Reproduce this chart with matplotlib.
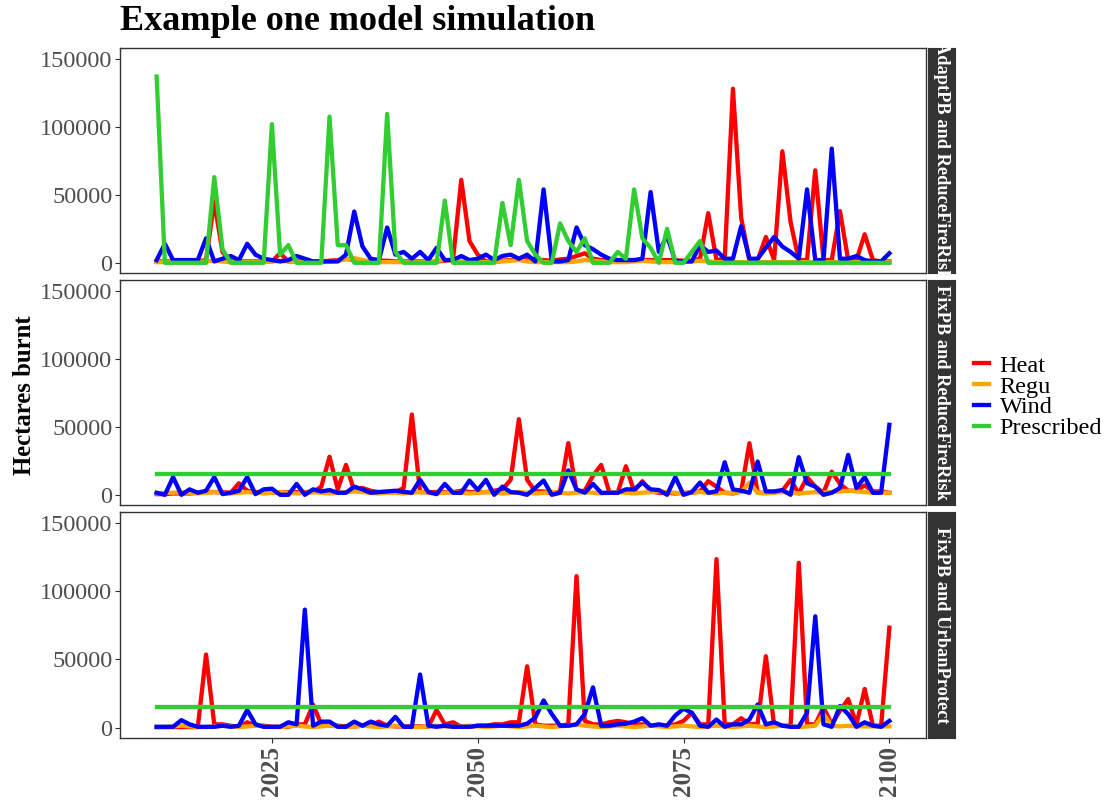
import numpy as np
import matplotlib.pyplot as plt
from matplotlib.lines import Line2D

plt.rcParams['font.family'] = ['Liberation Serif', 'DejaVu Serif']

years = np.arange(2011, 2101)

series_names = ['Heat', 'Regu', 'Wind', 'Prescribed']
series_colors = ['red', 'orange', 'blue', 'limegreen']
panel_titles = ['AdaptPB and ReduceFireRisk', 'FixPB and ReduceFireRisk', 'FixPB and UrbanProtect']

# ---- AdaptPB and ReduceFireRisk ----
heat_adapt = [1000, 1000, 1000, 1000, 1000, 1000, 2000, 45000, 8000, 1000,
              1000, 1000, 1000, 1000, 1000, 7000, 1000, 1000, 1000, 1000,
              1000, 1500, 2000, 3000, 2000, 1000, 1000, 1500, 1500, 1000,
              1000, 1000, 1000, 1000, 1000, 1500, 2500, 61000, 16000, 6000,
              1000, 1000, 1500, 2000, 2500, 3000, 2000, 2000, 1500, 2500,
              3000, 5000, 7000, 3000, 2000, 2000, 2000, 2000, 2000, 2000,
              2000, 2000, 2000, 2000, 1500, 1500, 3000, 36500, 2000, 3000,
              128000, 33000, 2000, 2000, 19000, 2000, 82000, 30000, 2000, 2000,
              68000, 2000, 2000, 38000, 2000, 2000, 21000, 2000, 1000, 1000]
regu_adapt = [500, 500, 500, 500, 500, 500, 1000, 1500, 1000, 500,
              500, 500, 500, 500, 1000, 1500, 1000, 500, 500, 500,
              500, 1000, 1500, 2500, 3500, 2000, 1000, 500, 500, 500,
              500, 500, 500, 1000, 1500, 2000, 1500, 1000, 500, 500,
              500, 500, 1000, 1500, 2000, 1000, 500, 500, 500, 500,
              500, 1000, 2000, 1500, 1000, 500, 500, 500, 1000, 1500,
              1000, 500, 500, 500, 500, 1000, 1500, 1000, 500, 500,
              500, 500, 500, 500, 500, 500, 500, 500, 500, 500,
              500, 500, 500, 500, 500, 500, 500, 500, 500, 500]
wind_adapt = [2000, 14000, 2000, 2000, 2000, 2000, 18000, 1000, 3000, 5000,
              2000, 14000, 6000, 3000, 2000, 1000, 2000, 5000, 3000, 1000,
              1000, 1000, 1000, 6000, 37700, 12000, 3000, 2000, 26000, 6000,
              8000, 3000, 8000, 2000, 11000, 2000, 2000, 5000, 2000, 3000,
              6000, 2000, 5000, 6000, 3000, 6000, 1000, 54000, 1000, 1000,
              2000, 26000, 13000, 10000, 6000, 3000, 2000, 2000, 2000, 3000,
              52000, 8000, 20000, 1000, 1000, 1000, 13000, 8000, 9000, 3000,
              3000, 27000, 3000, 3000, 11000, 19000, 12000, 8000, 3000, 54000,
              2000, 2000, 84000, 3000, 3000, 5000, 2000, 1000, 1000, 7000]
presc_adapt = [137000, 0, 0, 0, 0, 0, 0, 63000, 10000, 0,
               0, 0, 0, 0, 102000, 6000, 13000, 0, 0, 0,
               0, 107500, 13000, 13000, 0, 0, 0, 0, 109500, 8000,
               0, 0, 0, 0, 0, 45800, 0, 0, 0, 0,
               0, 0, 44000, 13000, 61000, 16000, 6000, 0, 0, 29000,
               16000, 8000, 18000, 0, 0, 0, 8000, 3000, 54000, 18000,
               11000, 0, 25000, 0, 0, 8000, 16000, 0, 0, 0,
               0, 0, 0, 0, 0, 0, 0, 0, 0, 0,
               0, 0, 0, 0, 0, 0, 0, 0, 0, 0]

# ---- FixPB and ReduceFireRisk ----
heat_fix_reduce = [500, 500, 1000, 1000, 1000, 1500, 2000, 2000, 2000, 1500,
                   8500, 3000, 2000, 2000, 1500, 2000, 2000, 2000, 2000, 2000,
                   6000, 28000, 4000, 22000, 3000, 5000, 3000, 2000, 2000, 2000,
                   5000, 59000, 2000, 2000, 2000, 2000, 2000, 3000, 2000, 2000,
                   2000, 3000, 4000, 11000, 55600, 11000, 2500, 2500, 1000, 2500,
                   38000, 2500, 3000, 14000, 22000, 1500, 1500, 21000, 2500, 10000,
                   2500, 1500, 1500, 1000, 1500, 1500, 2500, 10000, 6000, 1500,
                   1000, 2500, 38000, 1500, 1500, 1500, 3000, 11000, 1000, 13000,
                   6000, 1500, 17000, 8000, 3000, 3000, 7000, 2500, 2500, 1500]
regu_fix_reduce = [1000, 1500, 1500, 2000, 1500, 1000, 1500, 2000, 1500, 1000,
                   1500, 2000, 1500, 1000, 1500, 2000, 1500, 1000, 1500, 2000,
                   1500, 1000, 1500, 2000, 2500, 2000, 1500, 1000, 1500, 1500,
                   1000, 1500, 2000, 1500, 1000, 1500, 2000, 1500, 1000, 1500,
                   2000, 1500, 1000, 1500, 2000, 1500, 1000, 1500, 2000, 1500,
                   1000, 1500, 2000, 1500, 1000, 1500, 2000, 1500, 1000, 1500,
                   2000, 2500, 2000, 1500, 1000, 1500, 2000, 1500, 1000, 1500,
                   1500, 2000, 9000, 1500, 1000, 1500, 2000, 1500, 1000, 1500,
                   2000, 1500, 2000, 2500, 3000, 2500, 2000, 1500, 1500, 1500]
wind_fix_reduce = [1500, 0, 13000, 0, 4000, 1500, 3000, 13000, 500, 1500,
                   3000, 13000, 500, 4000, 4500, 0, 0, 8000, 0, 4000,
                   2500, 3500, 1500, 1500, 6000, 4000, 1500, 2000, 2500, 3000,
                   2200, 1500, 11000, 2000, 500, 8000, 1500, 1500, 10500, 3500,
                   11000, 0, 6000, 2000, 1500, 0, 5000, 10500, 0, 1500,
                   18000, 4000, 1500, 8000, 1500, 1500, 1500, 4000, 4000, 9000,
                   4000, 3500, 0, 13000, 0, 2000, 9000, 1500, 2500, 24000,
                   4000, 3000, 1500, 24500, 2500, 2500, 3500, 0, 27700, 8500,
                   6000, 0, 1500, 5000, 29400, 5000, 13000, 1500, 1500, 51500]
presc_fix_reduce = [15400] * 90

# ---- FixPB and UrbanProtect ----
heat_fix_urban = [500, 500, 500, 500, 500, 500, 53600, 2500, 2500, 1500,
                  700, 4000, 1500, 1500, 700, 700, 700, 2500, 2500, 17000,
                  2500, 1500, 1500, 1000, 1000, 1500, 1500, 4500, 1500, 1000,
                  1000, 1000, 1000, 700, 13000, 2500, 4000, 700, 700, 1500,
                  1500, 2500, 2500, 4000, 4000, 45000, 2500, 1500, 1500, 1500,
                  2500, 111000, 5000, 2500, 2500, 4000, 5000, 4000, 2500, 2500,
                  1500, 1500, 1500, 2500, 5000, 11000, 2500, 2500, 123500, 2500,
                  2500, 7000, 2500, 3000, 52400, 1500, 1500, 1500, 120800, 2500,
                  2500, 15000, 2500, 12500, 21000, 2500, 28400, 1500, 1500, 73300]
regu_fix_urban = [500, 500, 1000, 1500, 1000, 500, 500, 1000, 1500, 1000,
                  500, 1000, 1500, 1000, 500, 500, 1000, 1500, 1000, 500,
                  1000, 1500, 1000, 500, 1000, 1500, 1000, 500, 1000, 1500,
                  1000, 500, 500, 1000, 1500, 1000, 500, 1000, 1500, 1000,
                  500, 1000, 1500, 1000, 500, 1000, 1500, 1000, 500, 1000,
                  1500, 2500, 1500, 1000, 500, 1000, 1500, 1000, 500, 1000,
                  1500, 1000, 500, 1000, 1500, 1000, 500, 1000, 1500, 1000,
                  500, 1000, 1500, 1000, 500, 1000, 1500, 1000, 500, 1000,
                  1500, 10000, 1500, 1000, 1500, 1000, 1000, 1000, 1000, 1000]
wind_fix_urban = [700, 700, 700, 5600, 2500, 700, 700, 700, 1500, 700,
                  1500, 13000, 2500, 700, 700, 700, 4000, 2500, 86500, 1500,
                  4500, 4500, 700, 700, 4500, 1500, 4500, 2500, 1500, 8000,
                  700, 700, 39000, 1500, 700, 1500, 700, 700, 700, 1500,
                  1500, 1500, 1500, 1500, 1500, 3000, 7500, 20000, 10000, 1500,
                  1500, 2500, 10000, 29600, 1500, 1500, 2500, 3000, 4500, 7000,
                  1500, 2500, 1500, 9000, 14000, 11000, 1500, 700, 6000, 700,
                  2500, 2500, 6000, 17000, 2500, 4000, 1500, 700, 700, 11000,
                  81600, 2500, 700, 16000, 10000, 700, 4000, 1500, 700, 5000]
presc_fix_urban = [15400] * 90

panels = [
    [heat_adapt, regu_adapt, wind_adapt, presc_adapt],
    [heat_fix_reduce, regu_fix_reduce, wind_fix_reduce, presc_fix_reduce],
    [heat_fix_urban, regu_fix_urban, wind_fix_urban, presc_fix_urban],
]

y_ticks = [0, 50000, 100000, 150000]
x_ticks = [2025, 2050, 2075, 2100]

W, H = 1110, 801
fig = plt.figure(figsize=(W / 100, H / 100), dpi=100)


def add_px_axes(left, top, right, bottom):
    return fig.add_axes([left / W, 1 - bottom / H, (right - left) / W, (bottom - top) / H])


panel_rows = [(48, 273), (280, 505), (512, 738)]
grey20 = '#333333'
grey30 = '#4D4D4D'

for i, (top, bottom) in enumerate(panel_rows):
    ax = add_px_axes(120, top, 926, bottom)
    for vals, color in zip(panels[i], series_colors):
        ax.plot(years, vals, color=color, lw=3.1, solid_joinstyle='round')
    ax.set_xlim(2006.55, 2104.45)
    ax.set_ylim(-7500, 158000)
    ax.set_yticks(y_ticks)
    ax.set_yticklabels([str(t) for t in y_ticks])
    ax.set_xticks(x_ticks)
    for sp in ax.spines.values():
        sp.set_color(grey20)
        sp.set_linewidth(1.0)
    ax.tick_params(axis='y', direction='out', length=3.5, width=0.8, color=grey20,
                   labelsize=17.5, labelcolor=grey30, pad=2)
    if i == 2:
        ax.set_xticklabels([str(t) for t in x_ticks], rotation=90, fontweight='bold')
        ax.tick_params(axis='x', direction='out', length=3.5, width=0.8, color=grey20,
                       labelsize=18, labelcolor=grey30, pad=2)
    else:
        ax.tick_params(axis='x', length=0, labelbottom=False)

    # facet strip on the right
    strip = add_px_axes(928, top, 955, bottom)
    strip.set_facecolor(grey20)
    strip.set_xticks([])
    strip.set_yticks([])
    for sp in strip.spines.values():
        sp.set_color(grey20)
    strip.text(0.5, 0.5, panel_titles[i], rotation=-90, color='white', fontweight='bold',
               fontsize=13.2, ha='center', va='center', transform=strip.transAxes)

fig.text(120 / W, 1 - 22 / H, 'Example one model simulation', fontsize=26,
         fontweight='bold', ha='left', va='center')
fig.text(25 / W, 1 - 395 / H, 'Hectares burnt', rotation=90, fontsize=17.8,
         fontweight='bold', ha='center', va='center')

handles = [Line2D([], [], color=c, lw=3.1) for c in series_colors]
fig.legend(handles, series_names, loc='center left', bbox_to_anchor=(974 / W, 1 - 397 / H),
           frameon=False, fontsize=17.5, handlelength=0.6, handletextpad=0.45,
           labelspacing=-0.05, borderpad=0, borderaxespad=0)

fig.savefig('out.png', dpi=100)
